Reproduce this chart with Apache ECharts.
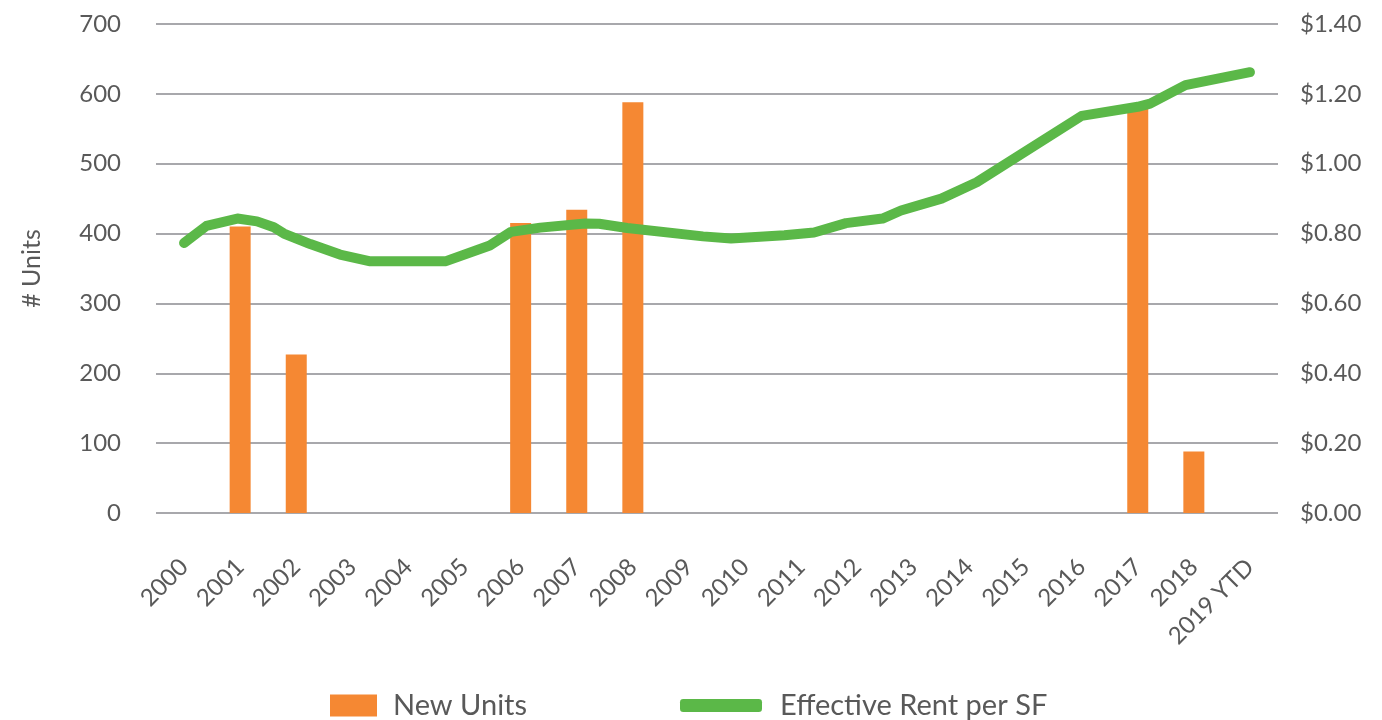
<!DOCTYPE html>
<html>
<head>
<meta charset="utf-8">
<script src="https://cdn.jsdelivr.net/npm/echarts@6/dist/echarts.min.js"></script>
<style>
html,body{margin:0;padding:0;background:#fff;}
#chart{width:1382px;height:720px;}
</style>
</head>
<body>
<div id="chart"></div>
<script>
// Categories (years)
var categories = ['2000','2001','2002','2003','2004','2005','2006','2007','2008','2009',
  '2010','2011','2012','2013','2014','2015','2016','2017','2018','2019 YTD'];
// New units delivered per year
var newUnits = [null, 410, 227, null, null, null, 415, 434, 588, null,
  null, null, null, null, null, null, null, 582, 88, null];
// Effective rent per SF: position along the year axis (0 = 2000) and value
var rentPos = [0.00, 0.40, 0.95, 1.30, 1.60, 1.78, 2.25, 2.78, 3.30, 4.67,
  5.45, 5.83, 6.35, 7.15, 7.40, 7.90, 9.25, 9.75, 10.70, 11.23,
  11.80, 12.45, 12.78, 13.50, 14.13, 16.00, 17.00, 17.22, 17.85, 19.00];
var rentVal = [0.773, 0.822, 0.843, 0.835, 0.818, 0.800, 0.770, 0.740, 0.721, 0.721,
  0.766, 0.805, 0.817, 0.829, 0.828, 0.816, 0.792, 0.786, 0.795, 0.803,
  0.830, 0.843, 0.866, 0.900, 0.947, 1.137, 1.163, 1.172, 1.225, 1.262];
// Axis ticks
var unitTicks = {min: 0, max: 700, interval: 100};
var rentTicks = {min: 0, max: 1.4, interval: 0.2};

var textColor = '#595959';
var fontFam = 'Lato, "Open Sans", sans-serif';
var orange = '#F58833';
var green = '#5BB848';

var rentData = rentPos.map(function (p, i) { return [p, rentVal[i]]; });

var chart = echarts.init(document.getElementById('chart'), null, {renderer: 'canvas'});
chart.setOption({
  animation: false,
  backgroundColor: '#ffffff',
  grid: {left: 156, right: 104, top: 24, bottom: 207, containLabel: false},
  legend: [{
    data: ['New Units'],
    left: 325, top: 686,
    itemWidth: 47, itemHeight: 22,
    icon: 'rect',
    textStyle: {color: textColor, fontSize: 29, fontFamily: fontFam, padding: [0, 0, 0, 11]}
  }, {
    data: ['Effective Rent per SF'],
    left: 675, top: 686,
    itemWidth: 82, itemHeight: 13,
    icon: 'roundRect',
    itemStyle: {borderWidth: 0},
    textStyle: {color: textColor, fontSize: 29, fontFamily: fontFam, padding: [0, 0, 0, 13]}
  }],
  xAxis: [{
    type: 'category',
    data: categories,
    boundaryGap: true,
    axisLine: {show: false},
    axisTick: {show: false},
    axisLabel: {
      rotate: 45, interval: 0, margin: 50,
      color: textColor, fontSize: 24, fontFamily: fontFam
    },
    splitLine: {show: false}
  }, {
    type: 'value',
    min: -0.5, max: 19.5,
    show: false,
    splitLine: {show: false}
  }],
  yAxis: [{
    type: 'value',
    name: '# Units',
    nameLocation: 'middle',
    nameGap: 112,
    nameRotate: 90,
    nameTextStyle: {color: textColor, fontSize: 25, fontFamily: fontFam},
    min: unitTicks.min, max: unitTicks.max, interval: unitTicks.interval,
    axisLine: {show: false},
    axisTick: {show: false},
    axisLabel: {color: textColor, fontSize: 24, fontFamily: fontFam, margin: 35},
    splitLine: {show: true, lineStyle: {color: '#A8A8AC', width: 2}}
  }, {
    type: 'value',
    min: rentTicks.min, max: rentTicks.max, interval: rentTicks.interval,
    position: 'right',
    axisLine: {show: false},
    axisTick: {show: false},
    axisLabel: {
      color: textColor, fontSize: 24, fontFamily: fontFam, margin: 22,
      formatter: function (v) { return '$' + v.toFixed(2); }
    },
    splitLine: {show: false}
  }],
  series: [{
    name: 'New Units',
    type: 'bar',
    xAxisIndex: 0, yAxisIndex: 0,
    data: newUnits,
    barWidth: 21,
    itemStyle: {color: orange},
    z: 2
  }, {
    name: 'Effective Rent per SF',
    type: 'line',
    xAxisIndex: 1, yAxisIndex: 1,
    data: rentData,
    showSymbol: false,
    symbol: 'none',
    smooth: false,
    lineStyle: {color: green, width: 10, cap: 'round', join: 'round'},
    itemStyle: {color: green},
    z: 3
  }]
});
</script>
</body>
</html>
